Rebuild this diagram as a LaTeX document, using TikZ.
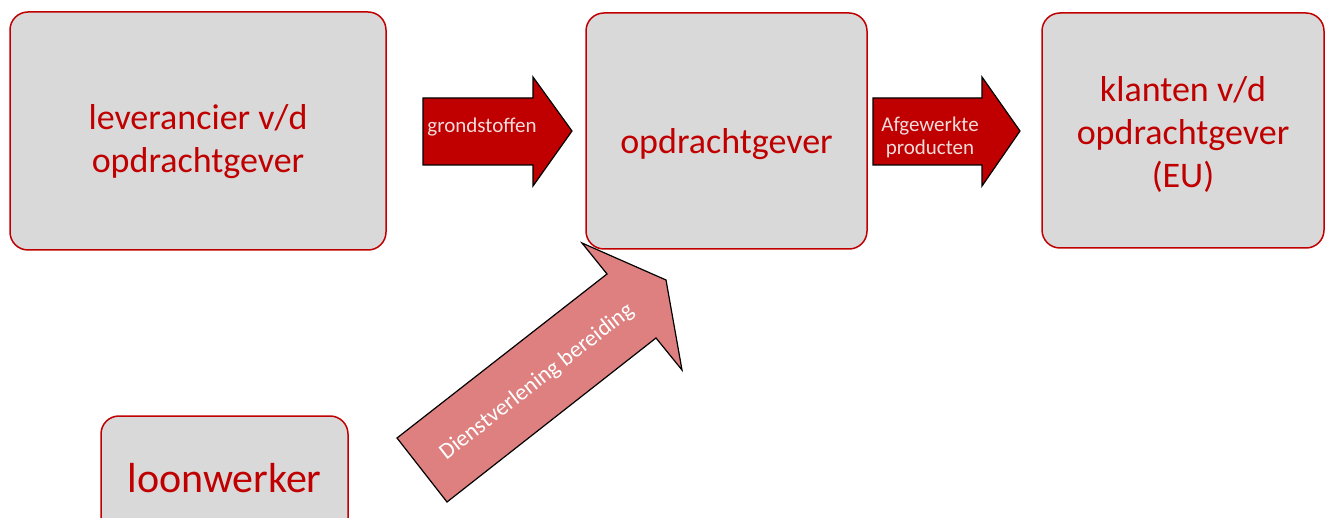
\documentclass[tikz,border=0pt]{standalone}
\usepackage{fontspec}
\setmainfont{Carlito}
\usetikzlibrary{positioning}
\definecolor{boxred}{RGB}{192,0,0}
\definecolor{boxgray}{RGB}{217,217,217}
\definecolor{salmon}{RGB}{222,128,128}
\definecolor{palepink}{RGB}{242,220,219}
\tikzset {
    style Box/.style={
        fill=boxgray,
        draw=boxred,
        line width=1.5pt,
        rectangle, % Set the shape as a rectangle
        rounded corners=18pt,
        inner sep=0pt,
    },
    style Text/.style={
        text=boxred,
        align=center,
        font=\fontsize{36}{43}\selectfont,
    },
    style Arrow/.style={
        fill=boxred,
        draw=black,
        line width=1.2pt,
        line join=miter,
    },
    style Light/.style={
        fill=salmon,
        draw=black,
        line width=1.2pt,
        line join=miter,
    },
    style Small/.style={
        text=palepink,
        align=center,
        font=\fontsize{21}{23}\selectfont,
    },
}
\begin{document}
\begin{tikzpicture}[x=1pt, y=-1pt]
        \useasboundingbox (0,0) rectangle (1325,518);

        % boxes
        \node[style Box, minimum width=376, minimum height=238,
            label={[style Text, yshift=-11pt]center:leverancier v/d\\opdrachtgever}] (Lev) at (198,131) {};
        \node[style Box, minimum width=281, minimum height=236,
            label={[style Text, yshift=-13pt]center:opdrachtgever}] (Opd) at (726.5,131) {};
        \node[style Box, minimum width=282, minimum height=235,
            label={[style Text, yshift=-4pt]center:klanten v/d\\opdrachtgever\\(EU)}] (Kla) at (1183,130.5) {};
        \node[style Box, minimum width=247, minimum height=124,
            label={[style Text, font=\fontsize{42}{48}\selectfont]center:loonwerker}] (Loon) at (224.5,478) {};

        % block arrows
        \draw[style Arrow] (423,98) -- (533,98) -- (533,77) -- (572,131)
            -- (533,186) -- (533,165) -- (423,165) -- cycle;
        \node[style Small] (Gr) at (482,127) {grondstoffen};

        \draw[style Arrow] (873,98) -- (982,98) -- (982,77) -- (1020,131)
            -- (982,186) -- (982,165) -- (873,165) -- cycle;
        \node[style Small] (Af) at (930,137) {Afgewerkte\\producten};

        \draw[style Light] (397,438) -- (607,274) -- (582,243) -- (666,280)
            -- (682,370) -- (656,338) -- (447,502) -- cycle;
        \node[style Small, text=white, font=\fontsize{23}{25}\selectfont, rotate=38] (Di) at (537,382) {Dienstverlening bereiding};
    \end{tikzpicture}
\end{document}
